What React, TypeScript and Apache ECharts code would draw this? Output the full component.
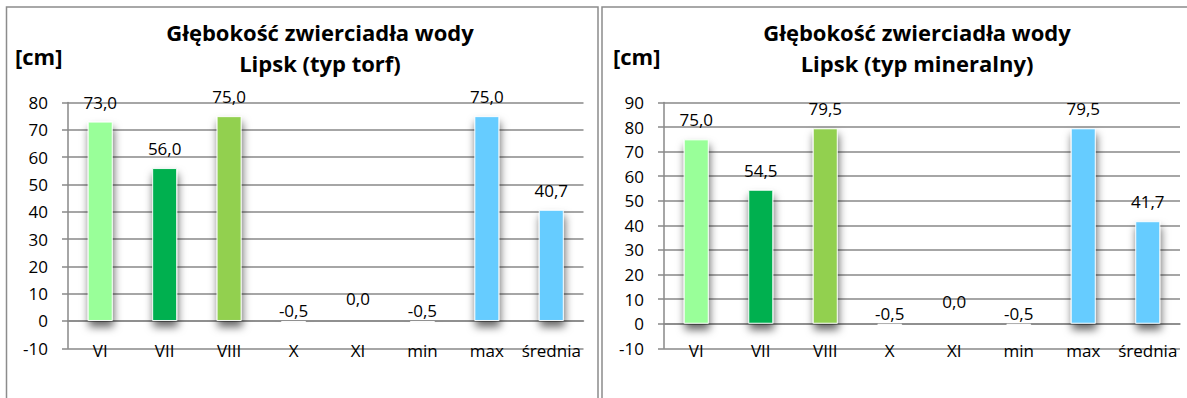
import React, { useEffect, useRef } from "react";
import * as echarts from "echarts";

const categories = ["VI", "VII", "VIII", "X", "XI", "min", "max", "średnia"];
const torfValues = [73.0, 56.0, 75.0, -0.5, 0.0, -0.5, 75.0, 40.7];
const mineralValues = [75.0, 54.5, 79.5, -0.5, 0.0, -0.5, 79.5, 41.7];
const barColors = ["#99FF99", "#00B050", "#92D050", "#C8C8C8", "#C8C8C8", "#C8C8C8", "#66CCFF", "#66CCFF"];
const titleLine1 = "Głębokość zwierciadła wody";
const titleTorf = "Lipsk (typ torf)";
const titleMineral = "Lipsk (typ mineralny)";
const unitLabel = "[cm]";
const torfAxis = { min: -10, max: 80, interval: 10 };
const mineralAxis = { min: -10, max: 90, interval: 10 };

const FONT = "'Open Sans', 'Noto Sans', sans-serif";
const GRID_COLOR = "#888888";

function fmt(v: number) {
  return v.toFixed(1).replace(".", ",");
}

const barShadow = {
  shadowColor: "rgba(0,0,0,0.6)",
  shadowBlur: 8,
  shadowOffsetY: 6,
  shadowOffsetX: 1,
};

function barData(values: number[]) {
  return values.map((v, i) => ({
    value: v,
    itemStyle: {
      color: barColors[i],
      borderColor: "rgba(255,255,255,0.9)",
      borderWidth: 1,
      ...barShadow,
    },
    label: v < 0 ? { distance: 2 } : v === 0 ? { distance: 13 } : {},
  }));
}

function makeSeries(values: number[], idx: number) {
  return {
    type: "bar",
    xAxisIndex: idx,
    yAxisIndex: idx,
    data: barData(values),
    barWidth: 25,
    itemStyle: { ...barShadow },
    label: {
      show: true,
      position: "top",
      distance: 11,
      formatter: (p: any) => fmt(p.value),
      fontFamily: FONT,
      fontSize: 17,
      color: "#000",
    },
  };
}

function yAxis(idx: number, cfg: { min: number; max: number; interval: number }) {
  return {
    type: "value",
    gridIndex: idx,
    min: cfg.min,
    max: cfg.max,
    interval: cfg.interval,
    axisLine: { show: true, lineStyle: { color: GRID_COLOR, width: 1.5 } },
    axisTick: { show: true, length: 6, lineStyle: { color: GRID_COLOR, width: 1.5 } },
    splitLine: { show: true, lineStyle: { color: GRID_COLOR, width: 1.5 } },
    axisLabel: { margin: 20, fontFamily: FONT, fontSize: 17, color: "#000" },
  };
}

function xAxis(idx: number) {
  return {
    type: "category",
    gridIndex: idx,
    data: categories,
    axisLine: { show: true, lineStyle: { color: GRID_COLOR, width: 1.5 } },
    axisTick: { show: false },
    axisLabel: {
      margin: 2,
      verticalAlign: "middle",
      fontFamily: FONT,
      fontSize: 17,
      color: "#000",
      interval: 0,
    },
  };
}

function txt(text: string, x: number, y: number, size: number, align = "center") {
  return {
    type: "text",
    x,
    y,
    style: {
      text,
      fontFamily: FONT,
      fontWeight: "bold",
      fontSize: size,
      fill: "#000",
      align,
      verticalAlign: "middle",
    },
  };
}

export default function App() {
  const ref = useRef<HTMLDivElement>(null);
  useEffect(() => {
    if (!ref.current) return;
    const chart = echarts.init(ref.current, undefined, { renderer: "svg" });
    chart.setOption({
      animation: false,
      backgroundColor: "#fff",
      grid: [
        { left: 68, top: 102.5, width: 515.5, height: 245.8 },
        { left: 664, top: 102.5, width: 516, height: 245.8 },
      ],
      xAxis: [xAxis(0), xAxis(1)],
      yAxis: [yAxis(0, torfAxis), yAxis(1, mineralAxis)],
      series: [makeSeries(torfValues, 0), makeSeries(mineralValues, 1)],
      graphic: [
        {
          type: "rect",
          shape: { x: 6.5, y: 7, width: 591.5, height: 420 },
          style: { fill: "none", stroke: "#8c8c8c", lineWidth: 1.5 },
          silent: true,
        },
        {
          type: "rect",
          shape: { x: 602, y: 7, width: 620, height: 420 },
          style: { fill: "none", stroke: "#8c8c8c", lineWidth: 1.5 },
          silent: true,
        },
        txt(titleLine1, 320, 32, 22),
        txt(titleTorf, 320, 63, 22),
        txt(unitLabel, 15, 56, 22, "left"),
        txt(titleLine1, 917, 32, 22),
        txt(titleMineral, 917, 63, 22),
        txt(unitLabel, 613, 56, 22, "left"),
      ],
    });
    return () => chart.dispose();
  }, []);
  return (
    <div
      ref={ref}
      style={{ position: "absolute", left: 0, top: 0, width: 1187, height: 398, background: "#fff" }}
    />
  );
}
